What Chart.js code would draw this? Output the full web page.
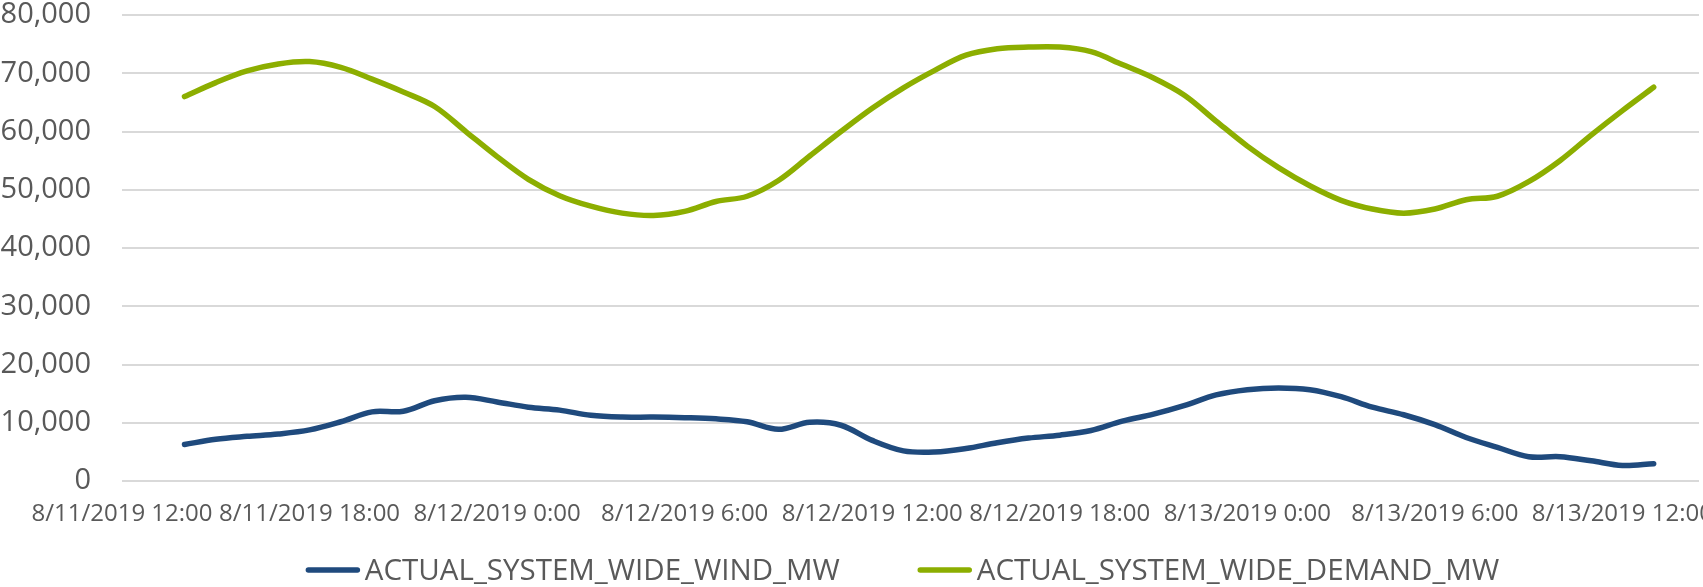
<!DOCTYPE html>
<html>
<head>
<meta charset="utf-8">
<script src="https://cdn.jsdelivr.net/npm/chart.js@4.4.1/dist/chart.umd.min.js"></script>
<style>
  html, body { margin: 0; padding: 0; background: #ffffff; }
  #wrap { width: 1703px; height: 587px; position: relative; }
</style>
</head>
<body>
<div id="wrap"><canvas id="chart" width="1703" height="587"></canvas></div>
<script>
// Hourly ERCOT readings, 8/11/2019 14:00 through 8/13/2019 13:00
const timestamps = [
  '8/11/2019 14:00','8/11/2019 15:00','8/11/2019 16:00','8/11/2019 17:00','8/11/2019 18:00',
  '8/11/2019 19:00','8/11/2019 20:00','8/11/2019 21:00','8/11/2019 22:00','8/11/2019 23:00',
  '8/12/2019 0:00','8/12/2019 1:00','8/12/2019 2:00','8/12/2019 3:00','8/12/2019 4:00',
  '8/12/2019 5:00','8/12/2019 6:00','8/12/2019 7:00','8/12/2019 8:00','8/12/2019 9:00',
  '8/12/2019 10:00','8/12/2019 11:00','8/12/2019 12:00','8/12/2019 13:00','8/12/2019 14:00',
  '8/12/2019 15:00','8/12/2019 16:00','8/12/2019 17:00','8/12/2019 18:00','8/12/2019 19:00',
  '8/12/2019 20:00','8/12/2019 21:00','8/12/2019 22:00','8/12/2019 23:00','8/13/2019 0:00',
  '8/13/2019 1:00','8/13/2019 2:00','8/13/2019 3:00','8/13/2019 4:00','8/13/2019 5:00',
  '8/13/2019 6:00','8/13/2019 7:00','8/13/2019 8:00','8/13/2019 9:00','8/13/2019 10:00',
  '8/13/2019 11:00','8/13/2019 12:00','8/13/2019 13:00'
];

const windMW = [
  6300, 7200, 7700, 8100, 8800, 10200, 11900, 12000, 13800, 14400,
  13600, 12700, 12200, 11300, 11000, 11000, 10900, 10700, 10200, 8900,
  10100, 9600, 7000, 5200, 5000, 5600, 6600, 7400, 7900, 8700,
  10300, 11500, 13000, 14800, 15700, 16000, 15700, 14500, 12700, 11400,
  9700, 7500, 5800, 4200, 4200, 3500, 2700, 3000
];

const demandMW = [
  66000, 68400, 70400, 71600, 72000, 71000, 69000, 66800, 64300, 60000,
  55700, 51800, 49000, 47200, 46000, 45600, 46300, 48000, 48900, 51600,
  55800, 60000, 64000, 67500, 70500, 73100, 74200, 74500, 74500, 73700,
  71500, 69200, 66200, 61800, 57500, 53800, 50700, 48200, 46700, 46000,
  46700, 48300, 48900, 51400, 55000, 59400, 63600, 67600
];

const tickLabels = [
  '8/11/2019 12:00', '8/11/2019 18:00', '8/12/2019 0:00', '8/12/2019 6:00',
  '8/12/2019 12:00', '8/12/2019 18:00', '8/13/2019 0:00', '8/13/2019 6:00',
  '8/13/2019 12:00'
];

const seriesNames = ['ACTUAL_SYSTEM_WIDE_WIND_MW', 'ACTUAL_SYSTEM_WIDE_DEMAND_MW'];

// Hours elapsed since the axis origin (8/11/2019 12:00)
const origin = new Date(2019, 7, 11, 12, 0);
function hoursFrom(label) {
  const [d, t] = label.split(' ');
  const [mo, dy, yr] = d.split('/').map(Number);
  const [hh, mm] = t.split(':').map(Number);
  return (new Date(yr, mo - 1, dy, hh, mm) - origin) / 3600000;
}
const xs = timestamps.map(hoursFrom);
const toPoints = vals => vals.map((v, i) => ({ x: xs[i], y: v }));

const FONT = "'Open Sans', 'Liberation Sans', sans-serif";
const TEXT = '#595959';
const BLUE = '#1f4a7d';
const GREEN = '#8cae00';
const LINE_W = 5.5;

// Legend row under the axis: short line swatch followed by the series name
const bottomLegend = {
  id: 'bottomLegend',
  afterDraw(chart) {
    const ctx = chart.ctx;
    const area = chart.chartArea;
    const swatch = 54, gap = 5, itemGap = 78;
    ctx.save();
    ctx.font = `29.5px ${FONT}`;
    const items = chart.data.datasets.map(ds => ({
      text: ds.label, color: ds.borderColor, w: ctx.measureText(ds.label).width
    }));
    const total = items.reduce((s, it) => s + swatch + gap + it.w, 0) + itemGap * (items.length - 1);
    let x = (area.left + area.right) / 2 - 8 - total / 2;
    const lineY = chart.height - 17;
    const baseY = chart.height - 7;
    ctx.textBaseline = 'alphabetic';
    ctx.textAlign = 'left';
    items.forEach(it => {
      ctx.strokeStyle = it.color;
      ctx.lineWidth = LINE_W;
      ctx.lineCap = 'round';
      ctx.beginPath();
      ctx.moveTo(x + 2.5, lineY);
      ctx.lineTo(x + swatch - 2.5, lineY);
      ctx.stroke();
      ctx.fillStyle = TEXT;
      ctx.fillText(it.text, x + swatch + gap, baseY);
      x += swatch + gap + it.w + itemGap;
    });
    ctx.restore();
  }
};

new Chart(document.getElementById('chart'), {
  type: 'line',
  data: {
    datasets: [
      { label: seriesNames[0], data: toPoints(windMW), borderColor: BLUE, backgroundColor: BLUE,
        borderWidth: LINE_W, pointRadius: 0, tension: 0.35, borderCapStyle: 'round', borderJoinStyle: 'round' },
      { label: seriesNames[1], data: toPoints(demandMW), borderColor: GREEN, backgroundColor: GREEN,
        borderWidth: LINE_W, pointRadius: 0, tension: 0.35, borderCapStyle: 'round', borderJoinStyle: 'round' }
    ]
  },
  plugins: [bottomLegend],
  options: {
    responsive: false,
    animation: false,
    layout: { padding: { top: 15, right: 4, bottom: 39, left: 0 } },
    plugins: {
      tooltip: { enabled: false },
      legend: { display: false }
    },
    scales: {
      x: {
        type: 'linear',
        min: 0,
        max: 50.45,
        grid: { display: false, drawTicks: false },
        border: { display: false },
        ticks: {
          stepSize: 6,
          includeBounds: false,
          autoSkip: false,
          maxRotation: 0,
          minRotation: 0,
          padding: 19,
          color: TEXT,
          font: { family: FONT, size: 24 },
          callback: v => tickLabels[Math.round(v / 6)] ?? ''
        },
        afterFit: s => { s.paddingLeft = 0; s.paddingRight = 0; }
      },
      y: {
        min: 0,
        max: 80000,
        grid: { color: '#d9d9d9', lineWidth: 2, drawTicks: false },
        border: { display: false },
        ticks: {
          stepSize: 10000,
          padding: 31,
          color: TEXT,
          font: { family: FONT, size: 29 },
          callback: v => v.toLocaleString('en-US')
        },
        afterFit: s => { s.width = 122; s.paddingTop = 0; s.paddingBottom = 0; }
      }
    }
  }
});
</script>
</body>
</html>
